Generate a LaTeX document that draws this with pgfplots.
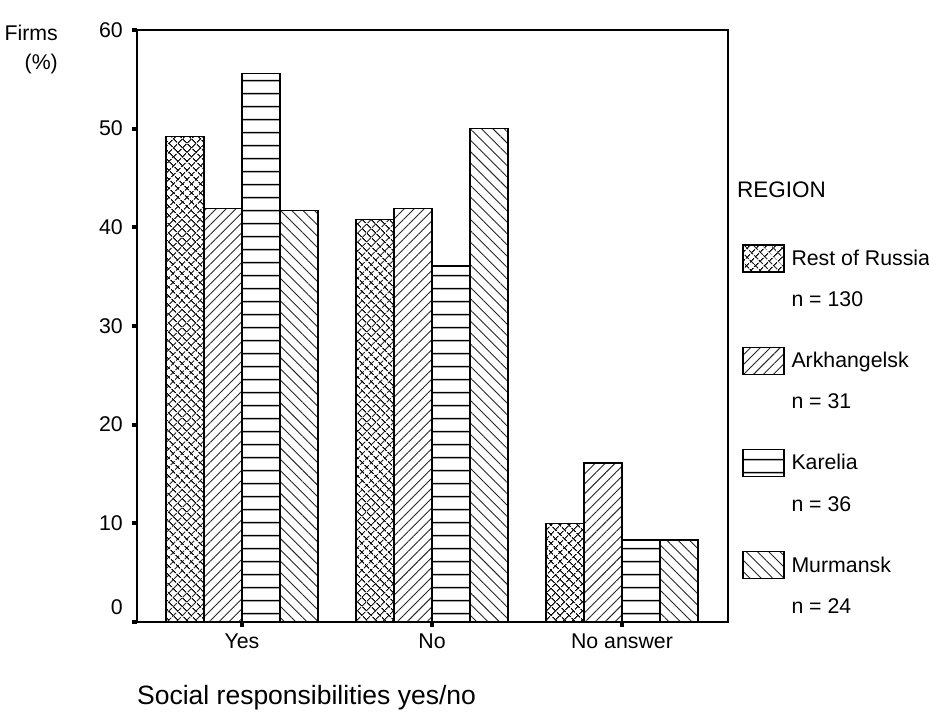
\documentclass[border=0pt]{standalone}
\usepackage{pgfplots}
\pgfplotsset{compat=1.18}
\usepackage{fontspec}
\setmainfont{Liberation Sans}
\usetikzlibrary{patterns.meta}
\newcommand\fA{\fontsize{21.3}{25.5}\selectfont}
\newcommand\fF{\fontsize{21.3}{28.5}\selectfont}
\newcommand\fR{\fontsize{22.5}{27}\selectfont}
\newcommand\fX{\fontsize{26.5}{31}\selectfont}
\pgfdeclarepatternformonly{karlines}{\pgfpoint{0pt}{0pt}}{\pgfpoint{60pt}{12.8pt}}{\pgfpoint{60pt}{12.8pt}}{%
  \pgfsetlinewidth{1.4pt}%
  \pgfpathmoveto{\pgfpoint{-1pt}{6.4pt}}\pgfpathlineto{\pgfpoint{61pt}{6.4pt}}\pgfusepath{stroke}}
\tikzset{
 rusP/.style={pattern={Lines[angle=45,distance=6.4pt,line width=1.1pt]}, pattern color=black,
   postaction={pattern={Lines[angle=-45,distance=6.4pt,line width=1.1pt]}, pattern color=black}},
 arkP/.style={pattern={Lines[angle=45,distance=7pt,line width=0.9pt]}, pattern color=black!85},
 karP/.style={pattern=karlines, pattern color=black},
 murP/.style={pattern={Lines[angle=-45,distance=8pt,line width=0.9pt]}, pattern color=black!85},
}
\newcommand\emptyimg[1]{\addlegendimage{legend image code/.code={\pgfpathmoveto{\pgfpoint{0pt}{10pt}}\pgfpathlineto{\pgfpoint{0pt}{-#1}}\pgfusepath{}}}}
\begin{document}
\begin{tikzpicture}
\begin{axis}[
  at={(0pt,0pt)}, anchor=south west,
  scale only axis, width=591pt, height=592pt,
  xmin=-0.5526, xmax=2.558, ymin=0, ymax=60,
  clip=false,
  ybar, bar width=0.2,
  xtick={0,1,2}, xticklabels={Yes,No,No answer},
  ytick={10,20,30,40,50,60},
  extra y ticks={0}, extra y tick style={yticklabel style={yshift=15pt}},
  xtick pos=bottom, ytick pos=left,
  tick align=outside, major tick length=5pt,
  tick style={black, line width=4pt},
  axis line style={line width=1.6pt},
  /pgf/number format/assume math mode=true,
  ticklabel style={font=\fA},
  yticklabel style={inner sep=0pt, xshift=-9pt},
  xticklabel style={inner sep=0pt, yshift=-7pt},
  legend style={at={(rel axis cs:1,0.6385)}, anchor=north west, xshift=14pt,
    draw=none, fill=none, inner sep=0pt, row sep=17.5pt, column sep=7pt,
    font=\fA, nodes={inner sep=0pt}},
  legend cell align=left,
]
\addplot[draw=black, line width=1.5pt, rusP, bar shift=-0.3, forget plot] coordinates {(0,49.2) (1,40.8) (2,10.0)};
\addplot[draw=black, line width=1.5pt, arkP, bar shift=-0.1, forget plot] coordinates {(0,41.9) (1,41.9) (2,16.1)};
\addplot[draw=black, line width=1.5pt, karP, bar shift=0.1, forget plot] coordinates {(0,55.6) (1,36.1) (2,8.3)};
\addplot[draw=black, line width=1.5pt, murP, bar shift=0.3, forget plot] coordinates {(0,41.7) (1,50.0) (2,8.3)};

\addlegendimage{legend image code/.code={\draw[line width=1.3pt, rusP] (0pt,-13.5pt) rectangle (41pt,13.5pt);}}
\addlegendentry{Rest of Russia}
\emptyimg{29pt}
\addlegendentry{n = 130}
\addlegendimage{legend image code/.code={\draw[line width=1.3pt, arkP] (0pt,-13.5pt) rectangle (41pt,13.5pt);}}
\addlegendentry{Arkhangelsk}
\emptyimg{29pt}
\addlegendentry{n = 31}
\addlegendimage{legend image code/.code={\draw[line width=1.3pt, karP] (0pt,-13.5pt) rectangle (41pt,13.5pt);}}
\addlegendentry{Karelia}
\emptyimg{29pt}
\addlegendentry{n = 36}
\addlegendimage{legend image code/.code={\draw[line width=1.3pt, murP] (0pt,-13.5pt) rectangle (41pt,13.5pt);}}
\addlegendentry{Murmansk}
\emptyimg{10pt}
\addlegendentry{n = 24}

\node[anchor=west, inner sep=0pt, font=\fR] at ([xshift=9pt]rel axis cs:1,0.7297) {REGION};
\node[anchor=north east, inner sep=0pt, align=right, font=\fF] at ([xshift=-79pt, yshift=5pt]rel axis cs:0,1) {Firms\\(\%)};
\node[anchor=west, inner sep=0pt, font=\fX] at ([yshift=-76pt]rel axis cs:0,0) {Social responsibilities yes/no};
\end{axis}
\pgfresetboundingbox
\path[use as bounding box] (-137pt,-100pt) rectangle (792pt,622pt);
\end{tikzpicture}
\end{document}
